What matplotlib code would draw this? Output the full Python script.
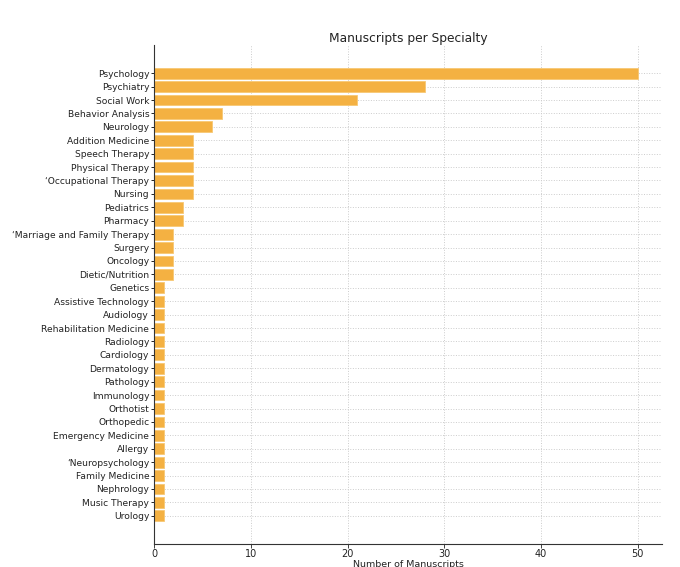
import matplotlib.pyplot as plt

specialties = ["Psychology", "Psychiatry", "Social Work", "Behavior Analysis", "Neurology",
               "Addition Medicine", "Speech Therapy", "Physical Therapy", "\u2018Occupational Therapy",
               "Nursing", "Pediatrics", "Pharmacy", "\u2018Marriage and Family Therapy", "Surgery",
               "Oncology", "Dietic/Nutrition", "Genetics", "Assistive Technology", "Audiology",
               "Rehabilitation Medicine", "Radiology", "Cardiology", "Dermatology", "Pathology",
               "Immunology", "Orthotist", "Orthopedic", "Emergency Medicine", "Allergy",
               "\u2018Neuropsychology", "Family Medicine", "Nephrology", "Music Therapy", "Urology"]
counts = [50, 28, 21, 7, 6, 4, 4, 4, 4, 4, 3, 3, 2, 2, 2, 2,
          1, 1, 1, 1, 1, 1, 1, 1, 1, 1, 1, 1, 1, 1, 1, 1, 1, 1]

fig = plt.figure(figsize=(6.8, 5.67), dpi=100)
ax = fig.add_axes([0.2265, 0.0406, 0.747, 0.88])

ypos = list(range(len(specialties)))
ax.barh(ypos, counts, height=0.8, color="#F4B142", edgecolor="#F7C874", linewidth=0.6, zorder=2)
ax.set_yticks(ypos)
ax.set_yticklabels(specialties, fontsize=6.6, color="#222222")
ax.set_ylim(len(specialties) - 1 + 2.1, -2.1)
ax.set_xlim(0, 52.5)
ax.set_xticks([0, 10, 20, 30, 40, 50])
ax.tick_params(axis="x", labelsize=7, colors="#222222", length=3, width=0.6, pad=0.5)
ax.tick_params(axis="y", length=2, width=0.6, pad=1.5)

ax.grid(True, linestyle=":", color="#cccccc", linewidth=0.7, zorder=0)
ax.set_axisbelow(True)
for s in ["top", "right"]:
    ax.spines[s].set_visible(False)
for s in ["left", "bottom"]:
    ax.spines[s].set_color("#333333")
    ax.spines[s].set_linewidth(0.8)

ax.set_title("Manuscripts per Specialty", fontsize=8.8, color="#222222", pad=2.5)
ax.set_xlabel("Number of Manuscripts", fontsize=6.8, color="#222222", labelpad=0.5)

fig.savefig("out.png", dpi=100)
